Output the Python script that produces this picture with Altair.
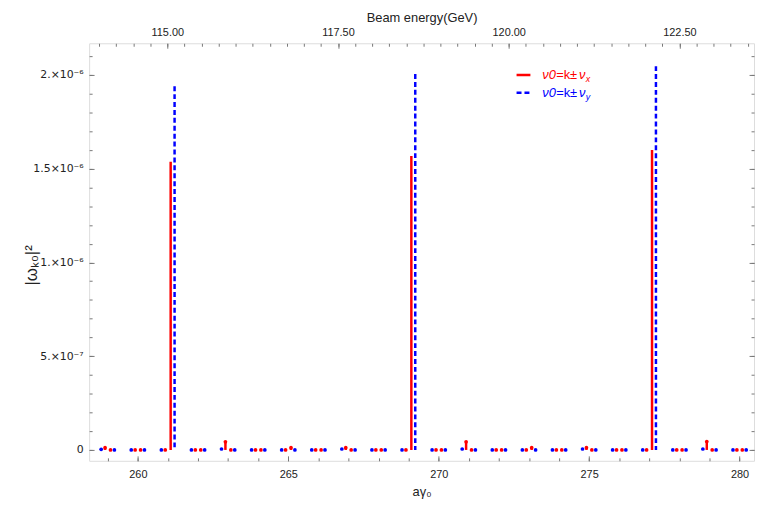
import altair as alt
import pandas as pd

# ---- data ----
nu_x = 0.09          # horizontal tune fraction
nu_y = 0.22          # vertical tune fraction
gev_per_agamma = 0.440649

k_values = list(range(259, 281))
# |w_k0|^2 at k - nu_x and k + nu_x (red) and k - nu_y, k + nu_y (blue)
red_minus = [1.2e-8, 0, 0, 0, 4.3e-8, 0, 0, 0, 1.2e-8, 0, 0, 0, 4.3e-8, 0, 0, 0,
             1.2e-8, 0, 0, 0, 4.5e-8, 0]
red_plus = [0, 0, 1.537e-6, 0, 0, 0, 1.2e-8, 0, 0, 0, 1.568e-6, 0, 0, 0, 1.2e-8, 0,
            0, 0, 1.600e-6, 0, 0, 0]
blue_minus = [3e-9, 0, 0, 0, 5e-9, 0, 0, 0, 5e-9, 0, 0, 0, 5e-9, 0, 0, 0,
              5e-9, 0, 0, 0, 5e-9, 0]
blue_plus = [0, 0, 1.940e-6, 0, 0, 0, 0, 0, 0, 0, 2.005e-6, 0, 0, 0, 0, 0,
             0, 0, 2.047e-6, 0, 0, 0]

x_major = [260, 265, 270, 275, 280]
x_minor = list(range(259, 281))
y_major = [0, 5e-7, 1e-6, 1.5e-6, 2e-6]
y_major_labels = ["0", "5.×10⁻⁷", "1.×10⁻⁶", "1.5×10⁻⁶", "2.×10⁻⁶"]
y_minor = [i * 1e-7 for i in range(0, 22)]
gev_major = [115.0, 117.5, 120.0, 122.5]
gev_minor = [114.0 + 0.25 * i for i in range(0, 39)]

x_domain = [258.38, 280.48]
y_domain = [-5.8e-8, 2.169e-6]

W, H = 672, 422
RED = "#ff0000"
BLUE = "#0000ff"
FRAME = "#777777"

red_df = pd.DataFrame({
    "x": [k - nu_x for k in k_values] + [k + nu_x for k in k_values],
    "v": red_minus + red_plus,
})
blue_df = pd.DataFrame({
    "x": [k - nu_y for k in k_values] + [k + nu_y for k in k_values],
    "v": blue_minus + blue_plus,
})

xs = alt.Scale(domain=x_domain, nice=False, zero=False)
ys = alt.Scale(domain=y_domain, nice=False, zero=False)


def tick_axis(orient, offset, values, size):
    return alt.Axis(orient=orient, offset=offset, values=values, tickSize=size,
                    labels=False, domain=False, grid=False, title=None,
                    tickColor=FRAME, tickWidth=1)


y_expr = "".join(
    f"abs(datum.value-({v}))<1e-12 ? '{l}' : " for v, l in zip(y_major, y_major_labels)
) + "''"

bottom_labels = alt.Axis(orient="bottom", values=x_major, format="d", ticks=False,
                         domain=False, grid=False, labelPadding=8, labelFontSize=11,
                         labelColor="#222", title="aγ₀", titleFontSize=13,
                         titleFontWeight="normal", titlePadding=6, titleColor="#222")
left_labels = alt.Axis(orient="left", values=y_major, labelExpr=y_expr, ticks=False,
                       domain=False, grid=False, labelPadding=6, labelFontSize=11,
                       labelFont="DejaVu Sans",
                       labelColor="#222", title="|ωₖ₀|²", titleFontSize=17,
                       titleFontWeight="normal", titleColor="#222", titleAngle=270,
                       titleX=-58, titleY=224, titleAlign="center",
                       titleBaseline="middle")
top_labels = alt.Axis(orient="top", values=[e / gev_per_agamma for e in gev_major],
                      labelExpr=f"format(datum.value*{gev_per_agamma}, '.2f')",
                      ticks=False, domain=False, grid=False, labelPadding=6,
                      labelFontSize=11, labelColor="#222", title="Beam energy(GeV)",
                      titleFontSize=13, titleFontWeight="normal", titlePadding=2,
                      titleColor="#222")

red_rules = alt.Chart(red_df).mark_rule(color=RED, strokeWidth=2.5).encode(
    x=alt.X("x:Q", scale=xs, axis=bottom_labels),
    y=alt.Y("v:Q", scale=ys, axis=left_labels),
    y2=alt.datum(0),
)
blue_rules = alt.Chart(blue_df).mark_rule(color=BLUE, strokeWidth=2.5,
                                          strokeDash=[5, 3]).encode(
    x=alt.X("x:Q", scale=xs, axis=tick_axis("top", -H, x_minor, 3)),
    y=alt.Y("v:Q", scale=ys, axis=tick_axis("right", -W, y_minor, 3)),
    y2=alt.datum(0),
)
red_pts = alt.Chart(red_df).transform_filter(alt.datum.v < 1e-7).mark_point(
    filled=True, color=RED, size=14, opacity=1).encode(
    x=alt.X("x:Q", scale=xs, axis=tick_axis("top", -H, x_major, 5)),
    y=alt.Y("v:Q", scale=ys, axis=tick_axis("right", -W, y_major, 5)),
)
blue_pts = alt.Chart(blue_df).transform_filter(alt.datum.v < 1e-7).mark_point(
    filled=True, color=BLUE, size=14, opacity=1).encode(
    x=alt.X("x:Q", scale=xs, axis=top_labels),
    y=alt.Y("v:Q", scale=ys, axis=tick_axis("left", -W, y_minor, 3)),
)
ghost1 = alt.Chart(red_df).mark_point(opacity=0).encode(
    x=alt.X("x:Q", scale=xs,
            axis=tick_axis("bottom", -H, [e / gev_per_agamma for e in gev_minor], 3)),
    y=alt.Y("v:Q", scale=ys, axis=tick_axis("left", -W, y_major, 5)),
)
ghost2 = alt.Chart(red_df).mark_point(opacity=0).encode(
    x=alt.X("x:Q", scale=xs,
            axis=tick_axis("bottom", -H, [e / gev_per_agamma for e in gev_major], 5)),
    y=alt.Y("v:Q", scale=ys, axis=None),
)

# ---- legend (hand drawn, like the reference) ----
legend_subs = ["x", "y"]
legend_colors = [RED, BLUE]
legend_dash = [[1, 0], [5, 3]]
legend_rows = [32, 50]

legend_layers = []
for sub, col, dash, yy in zip(legend_subs, legend_colors, legend_dash, legend_rows):
    one = pd.DataFrame({"a": ["ν0"], "b": ["=k±"], "c": ["ν"], "s": [sub]})
    base = alt.Chart(one)
    legend_layers.append(base.mark_rule(color=col, strokeWidth=2.5, strokeDash=dash).encode(
        x=alt.value(432), x2=alt.value(446), y=alt.value(yy)))
    legend_layers.append(base.mark_text(align="left", baseline="middle", fontSize=13,
                                        fontStyle="italic", color=col).encode(
        x=alt.value(458), y=alt.value(yy), text="a:N"))
    legend_layers.append(base.mark_text(align="left", baseline="middle", fontSize=13,
                                        color=col).encode(
        x=alt.value(472), y=alt.value(yy), text="b:N"))
    legend_layers.append(base.mark_text(align="left", baseline="middle", fontSize=13,
                                        fontStyle="italic", color=col).encode(
        x=alt.value(495), y=alt.value(yy), text="c:N"))
    legend_layers.append(base.mark_text(align="left", baseline="middle", fontSize=9,
                                        fontStyle="italic", color=col).encode(
        x=alt.value(502), y=alt.value(yy + 4), text="s:N"))

chart = alt.layer(red_rules, blue_rules, red_pts, blue_pts, ghost1, ghost2,
                  *legend_layers).resolve_axis(
    x="independent", y="independent"
).properties(
    width=W, height=H,
    padding={"left": 82, "top": 33, "right": 2, "bottom": 41},
    autosize=alt.AutoSizeParams(type="none"),
    background="white",
).configure_view(
    stroke=FRAME, strokeWidth=1
).configure(
    font="Liberation Sans"
)

chart.save("out.html", embed_options={"renderer": "svg", "actions": False})
